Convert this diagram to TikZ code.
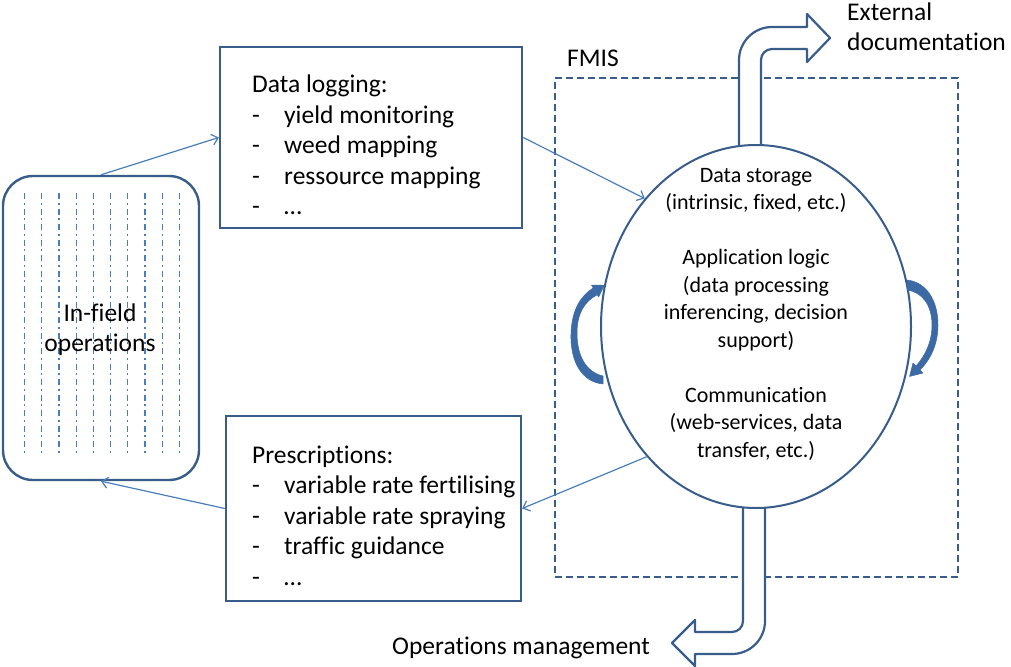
\documentclass[tikz,border=0pt]{standalone}
\usepackage{fontspec}
\setmainfont[Ligatures={NoCommon}]{Carlito}
\usetikzlibrary{arrows.meta,shapes.geometric}
\definecolor{boxblue}{HTML}{385D8A}
\definecolor{linkblue}{HTML}{4A7EBB}
\definecolor{arcblue}{HTML}{3B6AA5}
\tikzset{
  listbox/.style={draw=boxblue, line width=2.4pt, fill=white, rectangle, inner sep=0pt},
  fieldbox/.style={draw=boxblue, line width=2.4pt, rectangle, rounded corners=30pt, inner sep=0pt},
  fmisbox/.style={draw=boxblue, line width=2pt, dash pattern=on 7pt off 4pt, rectangle, inner sep=0pt},
  coreell/.style={draw=boxblue, line width=2pt, fill=white, ellipse, inner sep=0pt},
  link/.style={draw=linkblue, line width=1.2pt, -{Straight Barb[length=6pt,width=11pt]}},
  bigarrow/.style={draw=boxblue, line width=2.2pt, fill=white, line join=round},
  curlarrow/.style={fill=arcblue, draw=arcblue, line width=0.5pt, line join=round},
  rowline/.style={draw=linkblue, line width=1.2pt, dash pattern=on 6pt off 3.5pt on 2pt off 4pt},
  bigtext/.style={inner sep=0pt, font=\fontsize{25.5}{30.5}\selectfont},
  elltext/.style={inner sep=0pt, font=\fontsize{22}{27.5}\selectfont},
}
\begin{document}
\begin{tikzpicture}[x=1pt,y=-1pt]
\useasboundingbox (0,0) rectangle (1011,666);

% FMIS frame
\node[fmisbox, minimum width=403pt, minimum height=499pt] (fmis) at (756.5,327.5) {};
\node[bigtext, anchor=base west] (fmislabel) at (567,67) {FMIS};

% In-field operations
\node[fieldbox, minimum width=196pt, minimum height=304pt] (infield) at (101,328) {};
\foreach \i in {0,...,9} {
  \draw[rowline] ({24.5+17.2*\i},193) -- ({24.5+17.2*\i},454);
}
\node[bigtext, anchor=base] (infieldtext) at (100,321)
  {\begin{tabular}[t]{@{}c@{}}In-field\\ operations\end{tabular}};

% Data logging
\node[listbox, minimum width=302pt, minimum height=181pt] (dl) at (371,137.5) {};
\node[bigtext, anchor=base west] (dltext) at (252,93)
  {\begin{tabular}[t]{@{}l@{}}Data logging:\\
   \makebox[32pt][l]{-}yield monitoring\\
   \makebox[32pt][l]{-}weed mapping\\
   \makebox[32pt][l]{-}ressource mapping\\
   \makebox[32pt][l]{-}\dots\end{tabular}};

% Prescriptions
\node[listbox, minimum width=295pt, minimum height=185pt] (pr) at (373.5,508.5) {};
\node[bigtext, anchor=base west] (prtext) at (252,463)
  {\begin{tabular}[t]{@{}l@{}}Prescriptions:\\
   \makebox[32pt][l]{-}variable rate fertilising\\
   \makebox[32pt][l]{-}variable rate spraying\\
   \makebox[32pt][l]{-}traffic guidance\\
   \makebox[32pt][l]{-}\dots\end{tabular}};

% Bent arrows (external documentation / operations management)
\path[bigarrow] (739,170) -- (739,60) .. controls (739,41.8) and (753.8,27) .. (772,27)
  -- (807,27) -- (807,14) -- (830,38) -- (807,62) -- (807,49) -- (772,49)
  .. controls (765.9,49) and (761,53.9) .. (761,60) -- (761,170);
\path[bigarrow] (743,490) -- (743,621) .. controls (743,627.1) and (738.1,632) .. (732,632)
  -- (695,632) -- (695,620) -- (672,643) -- (695,666) -- (695,654) -- (732,654)
  .. controls (750.2,654) and (765,639.2) .. (765,621) -- (765,490);
\node[bigtext, anchor=base west] (exttext) at (847,21)
  {\begin{tabular}[t]{@{}l@{}}External\\[-0.5pt] documentation\end{tabular}};
\node[bigtext, anchor=base west] (opstext) at (392,654) {Operations management};

% FMIS core ellipse
\node[coreell, minimum width=310pt, minimum height=363pt] (ell) at (756,326.5) {};
\node[elltext, anchor=base] (elltxt) at (756,182)
  {\begin{tabular}[t]{@{}c@{}}Data storage\\
   (intrinsic, fixed, etc.)\\[27.5pt]
   Application logic\\
   (data processing\\
   inferencing, decision\\
   support)\\[27.5pt]
   Communication\\
   (web-services, data\\
   transfer, etc.)\end{tabular}};

% Curved arrows beside the ellipse
\path[curlarrow] (603,384) .. controls (582,382) and (570,362) .. (571,333)
  .. controls (572,309) and (581,296) .. (593,288) -- (597,295)
  .. controls (585,301) and (577,313) .. (577,333)
  .. controls (577,356) and (586,372) .. (603,376) -- cycle;
\path[curlarrow] (604.4,285.3) -- (591.4,285) -- (598.6,297) -- cycle;
\path[curlarrow] (907,280) .. controls (926,282) and (938,300) .. (938,325)
  .. controls (938,345) and (930,360) .. (920,370) -- (916,366)
  .. controls (925,356) and (932,342) .. (932,325)
  .. controls (932,305) and (922,292) .. (907,290) -- cycle;
\path[curlarrow] (909.5,376.5) -- (913,363) -- (923,373) -- cycle;

% Connectors
\draw[link] (infield.north) -- (dl.west);
\draw[link] (dl.east) -- (ell.131);
\draw[link] (ell.230) -- (pr.east);
\draw[link] (pr.west) -- (infield.south);
\end{tikzpicture}
\end{document}
